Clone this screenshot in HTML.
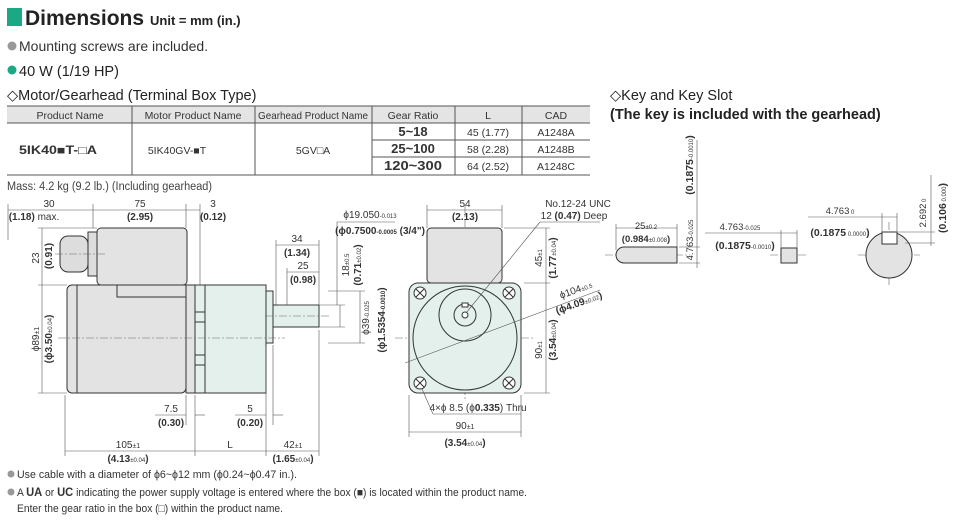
<!DOCTYPE html>
<html><head><meta charset="utf-8"><style>
html,body{margin:0;padding:0;background:#fff;}
svg{display:block;font-family:"Liberation Sans",sans-serif;}
</style></head><body>
<svg width="975" height="525" viewBox="0 0 975 525" xmlns="http://www.w3.org/2000/svg">
<!-- header -->
<rect x="7" y="8" width="15" height="18" fill="#1aa982"/>
<text x="25" y="25" font-size="21" font-weight="bold" fill="#222">Dimensions</text>
<text x="150" y="25" font-size="13" font-weight="bold" fill="#222">Unit = mm (in.)</text>
<circle cx="12" cy="46" r="4.5" fill="#999"/>
<text x="19" y="51" font-size="14" fill="#333">Mounting screws are included.</text>
<circle cx="12" cy="70" r="4.5" fill="#1aa982"/>
<text x="19" y="76" font-size="14.5" fill="#222">40 W (1/19 HP)</text>
<text x="7" y="100" font-size="14.5" fill="#222">◇Motor/Gearhead (Terminal Box Type)</text>
<!-- table -->
<rect x="7" y="106" width="583" height="17" fill="#e4e4e4"/>
<g stroke="#555" stroke-width="1" fill="none">
<line x1="7" y1="106" x2="590" y2="106"/>
<line x1="7" y1="123" x2="590" y2="123"/>
<line x1="7" y1="175" x2="590" y2="175"/>
<line x1="372" y1="140" x2="590" y2="140"/>
<line x1="372" y1="157" x2="590" y2="157"/>
<line x1="132" y1="106" x2="132" y2="175"/>
<line x1="255" y1="106" x2="255" y2="175"/>
<line x1="372" y1="106" x2="372" y2="175"/>
<line x1="455" y1="106" x2="455" y2="175"/>
<line x1="522" y1="106" x2="522" y2="175"/>
</g>
<g font-size="10.5" fill="#333" text-anchor="middle">
<text x="70" y="119">Product Name</text>
<text x="193" y="119">Motor Product Name</text>
<text x="313" y="119" textLength="110" lengthAdjust="spacingAndGlyphs">Gearhead Product Name</text>
<text x="413" y="119">Gear Ratio</text>
<text x="488" y="119">L</text>
<text x="556" y="119">CAD</text>
<text x="58" y="154" font-weight="bold" font-size="11.5" textLength="78" lengthAdjust="spacingAndGlyphs">5IK40■T-□A</text>
<text x="177" y="154">5IK40GV-■T</text>
<text x="313" y="154">5GV□A</text>
<text x="413" y="136" font-weight="bold" font-size="13">5~18</text>
<text x="413" y="153" font-weight="bold" font-size="13">25~100</text>
<text x="413" y="170" font-weight="bold" font-size="13" textLength="58" lengthAdjust="spacingAndGlyphs">120~300</text>
<text x="488" y="136">45 (1.77)</text>
<text x="488" y="153">58 (2.28)</text>
<text x="488" y="170">64 (2.52)</text>
<text x="556" y="136">A1248A</text>
<text x="556" y="153">A1248B</text>
<text x="556" y="170">A1248C</text>
</g>
<text x="7" y="190" font-size="11.5" fill="#444" textLength="205" lengthAdjust="spacingAndGlyphs">Mass: 4.2 kg (9.2 lb.) (Including gearhead)</text>

<!-- key title -->
<text x="610" y="100" font-size="14.5" fill="#222">◇Key and Key Slot</text>
<text x="610" y="119" font-size="14.5" font-weight="bold" fill="#222">(The key is included with the gearhead)</text>

<!-- SIDE VIEW -->
<g stroke="#333" stroke-width="1" fill="#e3e3e3">
<rect x="97" y="228" width="90" height="57" rx="4"/>
<rect x="60" y="236" width="28" height="36" rx="8" fill="#ddd"/>
<rect x="88" y="232" width="9" height="44" fill="#ddd"/>
<rect x="67" y="285" width="119" height="108" rx="5"/>
<line x1="77" y1="285" x2="77" y2="393"/>
<rect x="117" y="285" width="69" height="12" fill="#e3e3e3"/>
<rect x="186" y="285" width="9" height="108" fill="#e3e3e3"/>
<rect x="195" y="285" width="10" height="108" fill="#e3f0ec"/>
<rect x="205" y="285" width="61" height="108" fill="#e3f0ec"/>
<rect x="266" y="291" width="7" height="52" fill="#e3f0ec"/>
<rect x="273" y="305" width="46" height="22" fill="#e3f0ec"/>
</g>
<g stroke="#333" stroke-width="1">
<line x1="195" y1="312" x2="205" y2="312"/><line x1="195" y1="322" x2="205" y2="322"/>
<line x1="195" y1="355" x2="205" y2="355"/><line x1="195" y1="365" x2="205" y2="365"/>
</g>
<g stroke="#666" stroke-width="0.6" stroke-dasharray="8,2,2,2" fill="none">
<line x1="58" y1="338" x2="285" y2="338"/>
<line x1="265" y1="316" x2="330" y2="316"/>
<line x1="55" y1="254" x2="107" y2="254"/>
<line x1="465" y1="205" x2="465" y2="400"/>
<line x1="395" y1="338" x2="535" y2="338"/>
<line x1="432" y1="315" x2="498" y2="315"/>
<line x1="605" y1="255" x2="690" y2="255"/>
<line x1="770" y1="255" x2="806" y2="255"/>
<line x1="858" y1="255" x2="920" y2="255"/>
<line x1="889" y1="222" x2="889" y2="285"/>
</g>
<!-- side dims -->
<g stroke="#555" stroke-width="0.6" fill="none">
<line x1="8" y1="210" x2="200" y2="210"/>
<line x1="8" y1="204" x2="8" y2="240"/>
<line x1="93" y1="204" x2="93" y2="228"/>
<line x1="186" y1="204" x2="186" y2="228"/>
<line x1="200" y1="204" x2="200" y2="285"/>
<line x1="42" y1="228" x2="42" y2="393"/>
<line x1="38" y1="228" x2="97" y2="228"/>
<line x1="38" y1="285" x2="67" y2="285"/>
<line x1="38" y1="393" x2="67" y2="393"/>
<line x1="65" y1="395" x2="65" y2="456"/>
<line x1="186" y1="395" x2="186" y2="425"/>
<line x1="195" y1="395" x2="195" y2="456"/>
<line x1="266" y1="345" x2="266" y2="456"/>
<line x1="273" y1="345" x2="273" y2="425"/>
<line x1="319" y1="330" x2="319" y2="456"/>
<line x1="65" y1="451" x2="319" y2="451"/>
<line x1="155" y1="415" x2="186" y2="415"/><line x1="195" y1="415" x2="205" y2="415"/>
<line x1="235" y1="415" x2="266" y2="415"/><line x1="273" y1="415" x2="283" y2="415"/>
<line x1="276" y1="245" x2="319" y2="245"/>
<line x1="276" y1="240" x2="276" y2="305"/>
<line x1="287" y1="272" x2="319" y2="272"/>
<line x1="287" y1="268" x2="287" y2="305"/>
<line x1="319" y1="240" x2="319" y2="305"/>
<line x1="278" y1="305" x2="345" y2="305"/>
<line x1="319" y1="327" x2="345" y2="327"/>
<line x1="340" y1="305" x2="340" y2="327"/>
<line x1="328" y1="291" x2="365" y2="291"/>
<line x1="328" y1="343" x2="365" y2="343"/>
<line x1="360" y1="291" x2="360" y2="343"/>
<line x1="337" y1="222" x2="337" y2="305"/>
<line x1="337" y1="222" x2="395" y2="222"/>
</g>
<g font-size="10" fill="#333" text-anchor="middle">
<text x="49" y="207">30</text><text x="34" y="220"><tspan font-weight="bold">(1.18)</tspan> max.</text>
<text x="140" y="207">75</text><text x="140" y="220" font-weight="bold">(2.95)</text>
<text x="213" y="207">3</text><text x="213" y="220" font-weight="bold">(0.12)</text>
<text x="297" y="242">34</text><text x="297" y="256" font-weight="bold">(1.34)</text>
<text x="303" y="269">25</text><text x="303" y="283" font-weight="bold">(0.98)</text>
<text x="171" y="412">7.5</text><text x="171" y="426" font-weight="bold">(0.30)</text>
<text x="250" y="412">5</text><text x="250" y="426" font-weight="bold">(0.20)</text>
<text x="128" y="448">105<tspan font-size="7">±1</tspan></text><text x="128" y="462" font-weight="bold">(4.13<tspan font-size="6" font-weight="normal">±0.04</tspan>)</text>
<text x="230" y="448">L</text>
<text x="293" y="448">42<tspan font-size="7">±1</tspan></text><text x="293" y="462" font-weight="bold">(1.65<tspan font-size="6" font-weight="normal">±0.04</tspan>)</text>
<text transform="translate(39,258) rotate(-90)">23</text>
<text transform="translate(52,256) rotate(-90)" font-weight="bold">(0.91)</text>
<text transform="translate(39,339) rotate(-90)">ϕ89<tspan font-size="7">±1</tspan></text>
<text transform="translate(52,339) rotate(-90)" font-weight="bold">(ϕ3.50<tspan font-size="6" font-weight="normal">±0.04</tspan>)</text>
<text transform="translate(349,265) rotate(-90)">18<tspan font-size="6">±0.5</tspan></text>
<text transform="translate(361,265) rotate(-90)" font-weight="bold">(0.71<tspan font-size="6" font-weight="normal">±0.02</tspan>)</text>
<text transform="translate(369,318) rotate(-90)">ϕ39<tspan font-size="6">-0.025</tspan></text>
<text transform="translate(385,320) rotate(-90)" font-weight="bold">(ϕ1.5354<tspan font-size="6">-0.0010</tspan>)</text>
<text x="370" y="218">ϕ19.050<tspan font-size="6">-0.013</tspan></text>
<text x="380" y="234" font-weight="bold">(ϕ0.7500<tspan font-size="6">-0.0005</tspan> (3/4")</text>
</g>

<!-- FRONT VIEW -->
<g stroke="#333" stroke-width="1">
<rect x="427" y="228" width="75" height="55" rx="4" fill="#e3e3e3"/>
<rect x="409" y="283" width="112" height="110" rx="9" fill="#e3f0ec"/>
<circle cx="465" cy="338" r="52" fill="#e3f0ec"/>
<circle cx="465" cy="315" r="26" fill="#e3f0ec"/>
<circle cx="465" cy="315" r="11" fill="#e3f0ec"/>
<circle cx="465" cy="315" r="3" fill="#fff"/>
<rect x="462" y="303" width="6" height="4" fill="#fff"/>
</g>
<g stroke="#333" stroke-width="1" fill="#fff">
<circle cx="420" cy="293" r="6"/><circle cx="509" cy="293" r="6"/>
<circle cx="420" cy="383" r="6"/><circle cx="509" cy="383" r="6"/>
<path d="M416 289l8 8M424 289l-8 8M505 289l8 8M513 289l-8 8M416 379l8 8M424 379l-8 8M505 379l8 8M513 379l-8 8"/>
</g>
<g stroke="#555" stroke-width="0.6" fill="none">
<line x1="427" y1="210" x2="502" y2="210"/>
<line x1="427" y1="205" x2="427" y2="228"/><line x1="502" y1="205" x2="502" y2="228"/>
<line x1="504" y1="228" x2="550" y2="228"/><line x1="524" y1="283" x2="550" y2="283"/>
<line x1="524" y1="393" x2="550" y2="393"/>
<line x1="546" y1="228" x2="546" y2="393"/>
<line x1="409" y1="395" x2="409" y2="437"/><line x1="521" y1="395" x2="521" y2="437"/>
<line x1="409" y1="432" x2="521" y2="432"/>
<line x1="466" y1="313" x2="540" y2="222"/><line x1="540" y1="222" x2="600" y2="222"/>
<line x1="405" y1="363" x2="600" y2="290"/>
<line x1="422" y1="389" x2="433" y2="414"/><line x1="433" y1="414" x2="521" y2="414"/>
</g>
<g font-size="10" fill="#333" text-anchor="middle">
<text x="465" y="207">54</text><text x="465" y="220" font-weight="bold">(2.13)</text>
<text x="578" y="207">No.12-24 UNC</text><text x="574" y="219">12 <tspan font-weight="bold">(0.47)</tspan> Deep</text>
<text transform="translate(542,258) rotate(-90)">45<tspan font-size="6">±1</tspan></text>
<text transform="translate(556,258) rotate(-90)" font-weight="bold">(1.77<tspan font-size="6" font-weight="normal">±0.04</tspan>)</text>
<text transform="translate(542,350) rotate(-90)">90<tspan font-size="6">±1</tspan></text>
<text transform="translate(556,340) rotate(-90)" font-weight="bold">(3.54<tspan font-size="6" font-weight="normal">±0.04</tspan>)</text>
<text transform="translate(577,293) rotate(-20)">ϕ104<tspan font-size="6">±0.5</tspan></text>
<text transform="translate(580,306) rotate(-20)" font-weight="bold">(ϕ4.09<tspan font-size="6" font-weight="normal">±0.02</tspan>)</text>
<text x="478" y="411">4×ϕ 8.5 (ϕ<tspan font-weight="bold">0.335</tspan>) Thru</text>
<text x="465" y="429">90<tspan font-size="7">±1</tspan></text>
<text x="465" y="446" font-weight="bold">(3.54<tspan font-size="6" font-weight="normal">±0.04</tspan>)</text>
</g>

<!-- KEY -->
<g stroke="#333" stroke-width="1" fill="#e3e3e3">
<path d="M624 247 H677 V263 H624 A8 8 0 0 1 624 247 Z"/>
<rect x="781" y="248" width="16" height="15"/>
<circle cx="889" cy="255" r="23"/>
<rect x="882" y="232" width="15" height="12" fill="#fff"/>
</g>
<g stroke="#555" stroke-width="0.6" fill="none">
<line x1="616" y1="228" x2="677" y2="228"/>
<line x1="616" y1="224" x2="616" y2="250"/><line x1="677" y1="224" x2="677" y2="247"/>
<line x1="697" y1="140" x2="697" y2="268"/>
<line x1="679" y1="247" x2="700" y2="247"/><line x1="679" y1="263" x2="700" y2="263"/>
<line x1="705" y1="233" x2="797" y2="233"/>
<line x1="781" y1="230" x2="781" y2="248"/><line x1="797" y1="230" x2="797" y2="248"/>
<line x1="808" y1="217" x2="897" y2="217"/>
<line x1="882" y1="213" x2="882" y2="232"/><line x1="897" y1="213" x2="897" y2="232"/>
<line x1="898" y1="232" x2="935" y2="232"/><line x1="905" y1="243" x2="935" y2="243"/>
<line x1="931" y1="175" x2="931" y2="246"/>
</g>
<g font-size="9.5" fill="#333" text-anchor="middle">
<text x="646" y="229">25<tspan font-size="6">±0.2</tspan></text>
<text x="646" y="242" font-weight="bold">(0.984<tspan font-size="6" font-weight="normal">±0.008</tspan>)</text>
<text transform="translate(693,240) rotate(-90)">4.763<tspan font-size="6">-0.025</tspan></text>
<text transform="translate(693,165) rotate(-90)" font-weight="bold" font-size="10.5">(0.1875<tspan font-size="6" font-weight="normal">-0.0010</tspan>)</text>
<text x="740" y="230">4.763<tspan font-size="6">-0.025</tspan></text>
<text x="745" y="249" font-weight="bold" font-size="10.5">(0.1875<tspan font-size="6" font-weight="normal">-0.0010</tspan>)</text>
<text x="840" y="214">4.763<tspan font-size="6"> 0</tspan></text>
<text x="840" y="236" font-weight="bold" font-size="10.5">(0.1875<tspan font-size="6" font-weight="normal"> 0.0000</tspan>)</text>
<text transform="translate(926,213) rotate(-90)">2.692<tspan font-size="6"> 0</tspan></text>
<text transform="translate(946,208) rotate(-90)" font-weight="bold" font-size="10.5">(0.106<tspan font-size="6" font-weight="normal"> 0.000</tspan>)</text>
</g>

<!-- footnotes -->
<g font-size="11" fill="#333">
<circle cx="11" cy="474" r="3.5" fill="#999"/>
<text x="17" y="478" textLength="280" lengthAdjust="spacingAndGlyphs">Use cable with a diameter of ϕ6~ϕ12 mm (ϕ0.24~ϕ0.47 in.).</text>
<circle cx="11" cy="492" r="3.5" fill="#999"/>
<text x="17" y="496" textLength="510" lengthAdjust="spacingAndGlyphs">A <tspan font-weight="bold" font-size="12">UA</tspan> or <tspan font-weight="bold" font-size="12">UC</tspan> indicating the power supply voltage is entered where the box (■) is located within the product name.</text>
<text x="17" y="512" textLength="266" lengthAdjust="spacingAndGlyphs">Enter the gear ratio in the box (□) within the product name.</text>
</g>
</svg>
</body></html>
